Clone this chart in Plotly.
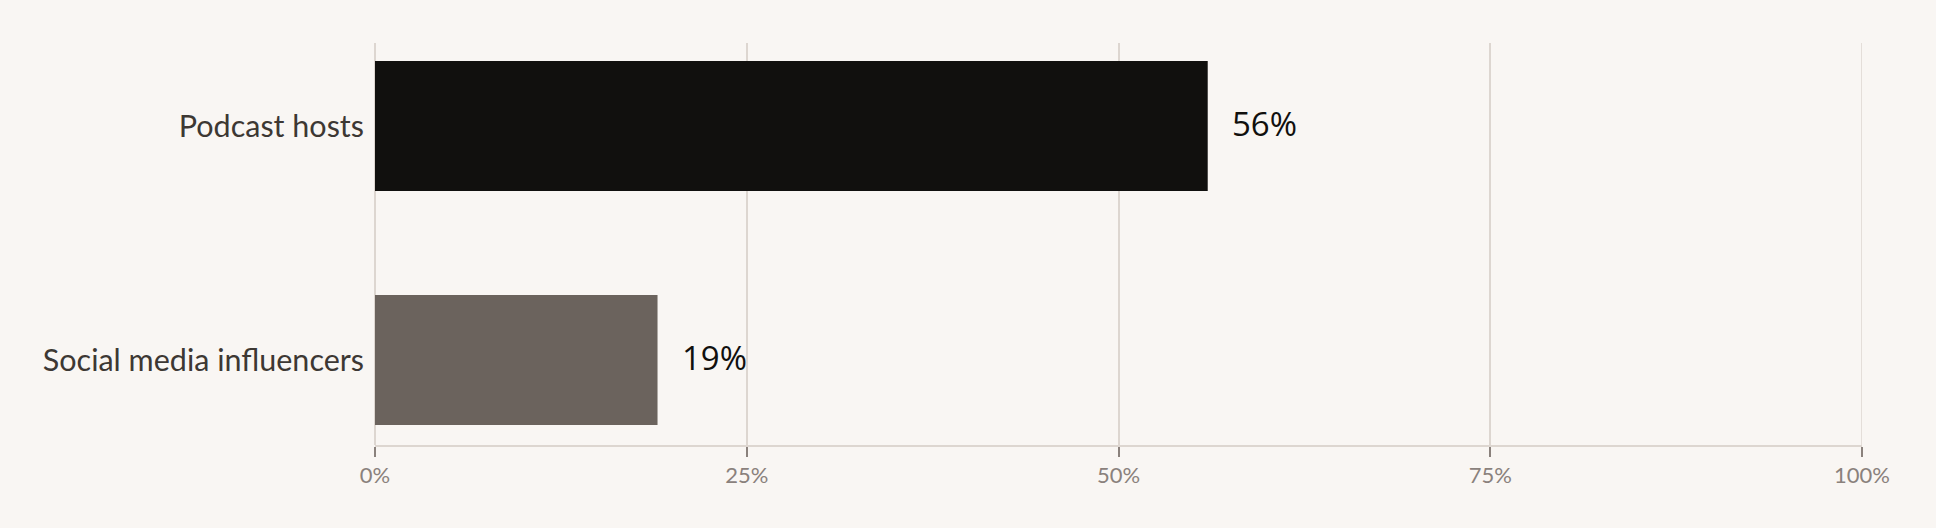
import plotly.graph_objects as go

categories = ["Podcast hosts", "Social media influencers"]
values = [56, 19]
bar_colors = ["#11100e", "#6b635d"]
tick_vals = [0, 25, 50, 75, 100]
tick_text = ["0%", "25%", "50%", "75%", "100%"]

BG = "#f9f6f3"
GRID = "#ddd6d0"

fig = go.Figure()
fig.add_trace(go.Bar(
    x=values,
    y=categories,
    orientation="h",
    marker=dict(color=bar_colors, line=dict(width=0)),
    width=0.556,
    hoverinfo="skip",
))

# value labels just right of each bar
for cat, val in zip(categories, values):
    fig.add_annotation(
        x=val, y=cat, text=f"{val}%",
        xanchor="left", xshift=22, yshift=3, showarrow=False,
        font=dict(family="Open Sans", size=33, color="#11100e"),
    )

# plotly drops the grid line at the right edge, so draw it as a shape
fig.add_shape(
    type="line", xref="x", yref="paper",
    x0=tick_vals[-1], x1=tick_vals[-1], y0=0, y1=1,
    line=dict(color=GRID, width=1.5), layer="below",
)

fig.update_layout(
    width=1936, height=528,
    paper_bgcolor=BG, plot_bgcolor=BG,
    margin=dict(l=375, r=74, t=43, b=83),
    showlegend=False,
)
fig.update_xaxes(
    range=[0, 100],
    tickvals=tick_vals, ticktext=tick_text,
    ticks="outside", ticklen=10, tickwidth=2, tickcolor="#8a817c",
    tickfont=dict(family="Lato", size=22, color="#8a817c"),
    showgrid=True, gridcolor=GRID, gridwidth=1.5,
    showline=True, linecolor=GRID, linewidth=2,
    zeroline=True, zerolinecolor=GRID, zerolinewidth=1.5,
)
fig.update_yaxes(
    range=[1.363, -0.355],
    tickfont=dict(family="Lato", size=30.5, color="#3d3833"),
    ticks="", showgrid=False, showline=False, zeroline=False,
    ticklabelstandoff=10,
)

# page body without the default white margin
fig.write_html(
    "out.html",
    config={"displayModeBar": False},
    post_script="document.body.style.margin='0';document.body.style.background='%s';" % BG,
)
